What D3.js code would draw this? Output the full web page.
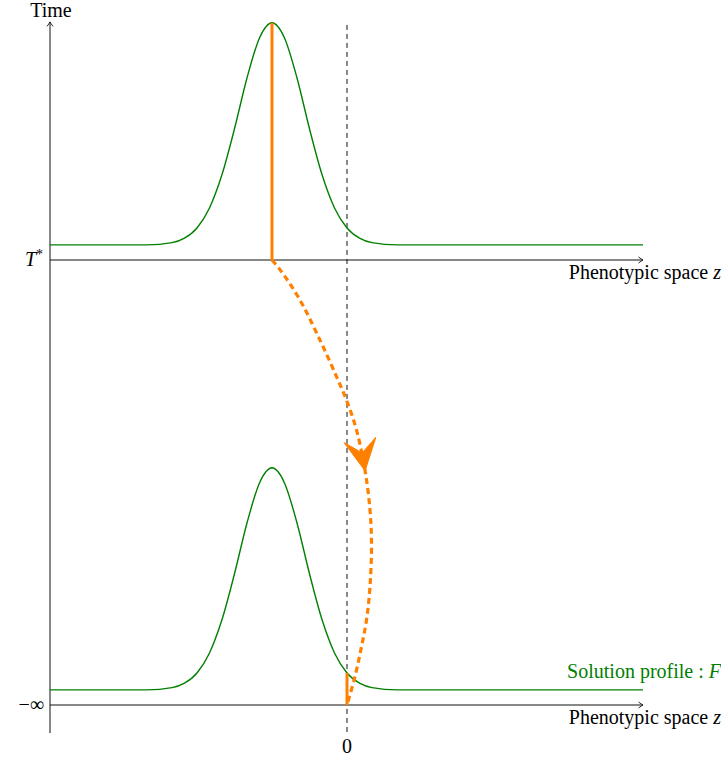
<!DOCTYPE html>
<html>
<head>
<meta charset="utf-8">
<script src="https://cdn.jsdelivr.net/npm/d3@7"></script>
<style>
  body { margin: 0; background: #fff; }
</style>
</head>
<body>
<svg id="chart" width="721" height="761"></svg>
<script>
// phenotypic space (z) and time axis extents
var zRange = [-5.94, 5.92];
var timeRange = [-0.063, 1.535];

// the two panels: t = T* on top, t = -infinity at the bottom
var panelTimes = [1, 0];
var panelLabels = ["T*", "\u2212\u221e"];
var peakZ = [-1.5, -1.5];

// solution profile F (z relative to the peak, height in time units)
var profileDz = [-4.44, -3.0, -2.5, -2.0, -1.75, -1.5, -1.25, -1.0, -0.75, -0.5, -0.25, 0,
                 0.25, 0.5, 0.75, 1.0, 1.25, 1.5, 1.75, 2.0, 2.5, 3.0, 7.42];
var profileF  = [0.034, 0.034, 0.034, 0.039, 0.049, 0.072, 0.117, 0.192, 0.295, 0.409, 0.499, 0.533,
                 0.499, 0.409, 0.295, 0.192, 0.117, 0.072, 0.049, 0.039, 0.034, 0.034, 0.034];

// orange trajectory from the top peak down to z = 0 at t = -infinity
var trajZ = [-1.5, -1.31, -0.94, -0.54, -0.21, -0.01, 0.19, 0.36, 0.46, 0.49, 0.46, 0.39, 0.29, 0.16, 0];
var trajT = [1.0, 0.974, 0.91, 0.82, 0.738, 0.685, 0.618, 0.528, 0.438, 0.364, 0.266, 0.191, 0.131, 0.064, 0];
var arrowT = 0.526; // where the arrow tip sits on the trajectory

var green = "#008000", orange = "#ff8000", axisColor = "#111";
var FONT = "'Liberation Serif', serif";

var svg = d3.select("#chart");

var x = d3.scaleLinear().domain([-6, 6]).range([47, 647]);
var y = d3.scaleLinear().domain([0, 1]).range([705, 260]);

// every label goes through here so the font is set on the element itself
function label(px, py, anchor) {
  return svg.append("text")
      .attr("x", px)
      .attr("y", py)
      .attr("text-anchor", anchor)
      .style("font-family", FONT)
      .style("font-size", "20px");
}

// arrow head used by the axes
var defs = svg.append("defs");
defs.append("marker")
    .attr("id", "tip")
    .attr("viewBox", "-6 -4 8 8")
    .attr("refX", 0).attr("refY", 0)
    .attr("markerWidth", 8).attr("markerHeight", 8)
    .attr("markerUnits", "userSpaceOnUse")
    .attr("orient", "auto")
  .append("path")
    .attr("d", "M-4.5,-3 Q-1.5,-0.8 0,0 Q-1.5,0.8 -4.5,3")
    .attr("fill", "none")
    .attr("stroke", axisColor)
    .attr("stroke-width", 0.9);

// dashed line at z = 0
svg.append("line")
    .attr("x1", x(0)).attr("x2", x(0))
    .attr("y1", y(timeRange[1]) + 3).attr("y2", y(timeRange[0]) + 2)
    .attr("stroke", "#111")
    .attr("stroke-width", 1)
    .attr("stroke-dasharray", "5,4");

// time axis
svg.append("line")
    .attr("x1", x(zRange[0])).attr("x2", x(zRange[0]))
    .attr("y1", y(timeRange[0])).attr("y2", y(timeRange[1]))
    .attr("stroke", axisColor)
    .attr("stroke-width", 1)
    .attr("marker-end", "url(#tip)");

label(x(zRange[0]) + 1, 17, "middle").text("Time");

var line = d3.line()
    .x(function(d) { return x(d[0]); })
    .y(function(d) { return y(d[1]); });

panelTimes.forEach(function(t, i) {
  // phenotypic axis for this panel
  svg.append("line")
      .attr("x1", x(zRange[0])).attr("x2", x(zRange[1]))
      .attr("y1", y(t)).attr("y2", y(t))
      .attr("stroke", axisColor)
      .attr("stroke-width", 1)
      .attr("marker-end", "url(#tip)");

  var lab = label(721, y(t) + 19, "end");
  lab.append("tspan").text("Phenotypic space ");
  lab.append("tspan").style("font-style", "italic").text("z");

  // profile
  var pts = profileDz.map(function(dz, k) { return [peakZ[i] + dz, t + profileF[k]]; });
  svg.append("path")
      .datum(pts)
      .attr("d", line.curve(d3.curveMonotoneX))
      .attr("fill", "none")
      .attr("stroke", green)
      .attr("stroke-width", 1.4);
});

// time tick labels
var tl = label(43, y(panelTimes[0]) + 6, "end");
tl.append("tspan").style("font-style", "italic").text("T");
tl.append("tspan").attr("dy", -7).style("font-size", "14px").text("*");

label(44, y(panelTimes[1]) + 6, "end").text(panelLabels[1]);

label(x(0), 753, "middle").text("0");

// profile legend
var leg = label(721, y(panelTimes[1]) - 27, "end").attr("fill", green);
leg.append("tspan").text("Solution profile : ");
leg.append("tspan").style("font-style", "italic").text("F");

// orange solid segments: top peak and where the bottom profile meets z = 0
function profileAt(z, pk) {
  var i = d3.bisectLeft(profileDz, z - pk);
  var a = profileDz[i - 1], b = profileDz[i];
  return profileF[i - 1] + (profileF[i] - profileF[i - 1]) * (z - pk - a) / (b - a);
}
var lineLinear = d3.line()
    .x(function(d) { return x(d[0]); })
    .y(function(d) { return y(d[1]); });

svg.append("path")
    .datum([[peakZ[0], panelTimes[0]], [peakZ[0], panelTimes[0] + profileAt(peakZ[0], peakZ[0])]])
    .attr("d", lineLinear)
    .attr("stroke", orange)
    .attr("stroke-width", 3);

svg.append("path")
    .datum([[0, panelTimes[1]], [0, panelTimes[1] + profileAt(0, peakZ[1])]])
    .attr("d", lineLinear)
    .attr("stroke", orange)
    .attr("stroke-width", 3);

// dashed trajectory
var traj = svg.append("path")
    .datum(trajZ.map(function(z, k) { return [z, trajT[k]]; }))
    .attr("d", lineLinear.curve(d3.curveCatmullRom))
    .attr("fill", "none")
    .attr("stroke", orange)
    .attr("stroke-width", 3.2)
    .attr("stroke-dasharray", "6,4");

// arrow head placed on the trajectory where it crosses arrowT
var node = traj.node();
var total = node.getTotalLength();
var best = 0, bestD = Infinity, ty = y(arrowT);
for (var s = 0; s <= total; s += 0.5) {
  var p = node.getPointAtLength(s);
  var dd = Math.abs(p.y - ty);
  if (dd < bestD) { bestD = dd; best = s; }
}
var p0 = node.getPointAtLength(best - 2), p1 = node.getPointAtLength(best);
var ang = Math.atan2(p1.y - p0.y, p1.x - p0.x) * 180 / Math.PI;
svg.append("path")
    .attr("d", "M0,0 L-31,-16 L-18,0 L-31,16 Z")
    .attr("transform", "translate(" + p1.x + "," + p1.y + ") rotate(" + ang + ")")
    .attr("fill", orange)
    .attr("stroke", orange)
    .attr("stroke-width", 1)
    .attr("stroke-linejoin", "round");
</script>
</body>
</html>
